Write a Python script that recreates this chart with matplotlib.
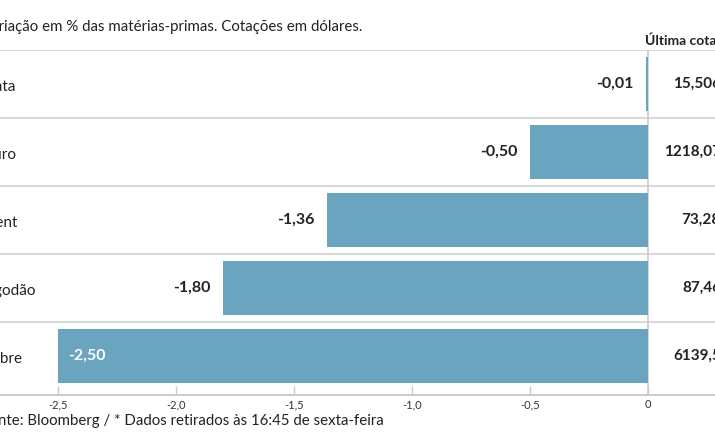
import matplotlib
matplotlib.use('Agg')
import matplotlib.pyplot as plt
from matplotlib.transforms import blended_transform_factory

categories = ["Prata", "Ouro", "Brent", "Algodão", "Cobre"]
changes = [-0.01, -0.50, -1.36, -1.80, -2.50]
prices = ["15,506", "1218,07", "73,28", "87,46", "6139,5"]
ticks = [-2.5, -2.0, -1.5, -1.0, -0.5, 0]
tick_labels = ["-2,5", "-2,0", "-1,5", "-1,0", "-0,5", "0"]
title = "Variação em % das matérias-primas. Cotações em dólares."
header = "Última cotação*"
footer = "Fonte: Bloomberg / * Dados retirados às 16:45 de sexta-feira"

plt.rcParams['font.family'] = ['Lato', 'DejaVu Sans']

W, H = 715, 445
BAR = '#6aa4bf'
TXT = '#222222'
GRID = '#d9d9d9'

fig = plt.figure(figsize=(W / 100, H / 100), dpi=100)
ax = fig.add_axes([0, 50 / H, 1, 345 / H])
x0, ppu = 648, 236.0
ax.set_xlim(-x0 / ppu, (W - x0) / ppu)
ax.set_ylim(-0.5 + 345 / 68, -0.5)

ypos = list(range(len(categories)))
ax.barh(ypos, changes, height=0.8, color=BAR, zorder=2)

for i in ypos:
    ax.axhline(i - 0.5, color=GRID, lw=1.5, zorder=1)
ax.axvline(0, color='#cccccc', lw=1.2, zorder=1)

for s in ['top', 'right', 'left']:
    ax.spines[s].set_visible(False)
ax.spines['bottom'].set_color('#cccccc')
ax.spines['bottom'].set_linewidth(1.5)
ax.set_yticks([])
ax.set_xticks(ticks)
ax.set_xticklabels(tick_labels)
ax.tick_params(axis='x', direction='in', length=6.5, width=1, color='#cccccc',
               labelsize=8, labelcolor='#333333', pad=3)

tr = blended_transform_factory(fig.transFigure, ax.transData)
for i, name in enumerate(categories):
    ax.text(-19 / W, i + 0.05, name, transform=tr, ha='left', va='center',
            fontsize=11, color=TXT)

vmin = min(changes)
for i, v in enumerate(changes):
    lab = f"{v:.2f}".replace('.', ',')
    if v == vmin:
        ax.annotate(lab, (v, i), xytext=(7, 0), textcoords='offset points',
                    ha='left', va='center', fontsize=11.5, color='white',
                    fontweight='bold')
    else:
        ax.annotate(lab, (v, i), xytext=(-9, 0), textcoords='offset points',
                    ha='right', va='center', fontsize=11.5, color=TXT,
                    fontweight='bold')

for i, p in enumerate(prices):
    ax.text(721 / W, i, p, transform=tr, ha='right', va='center',
            fontsize=11, color=TXT, fontweight='bold')

fig.text(645 / W, 1 - 40 / H, header, ha='left', va='center', fontsize=10,
         color=TXT, fontweight='bold')
fig.text(-19 / W, 1 - 27 / H, title, ha='left', va='center', fontsize=10.8,
         color=TXT)
fig.text(-19 / W, 1 - 421 / H, footer, ha='left', va='center', fontsize=10.8,
         color=TXT)

fig.savefig('out.png', dpi=100)
